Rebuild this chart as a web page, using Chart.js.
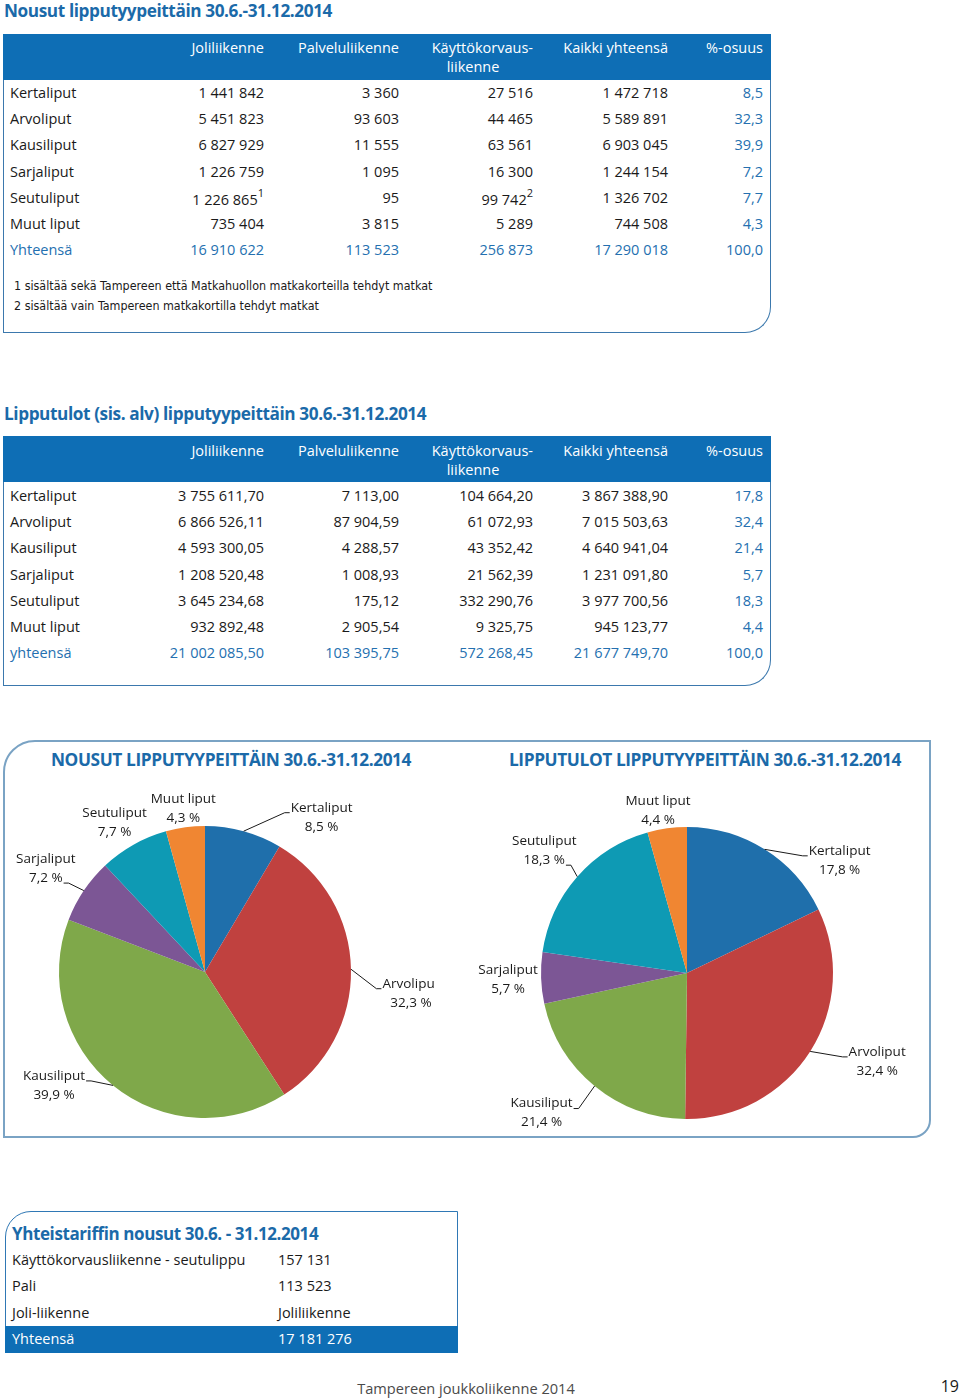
<!DOCTYPE html>
<html>
<head>
<meta charset="utf-8">
<script src="https://cdn.jsdelivr.net/npm/chart.js@4/dist/chart.umd.min.js"></script>
<style>
  body { margin: 0; background: #fff; font-family: "Open Sans", sans-serif; color: #1a1a1a; }
  #page { position: relative; width: 960px; height: 1399px; overflow: hidden; }
  .t { position: absolute; white-space: nowrap; line-height: 1; transform: translateY(-50%); }
  .box { position: absolute; box-sizing: border-box; }
  .title { font-weight: 700; color: #1b6aa9; letter-spacing: -0.4px; }
  .hdr { color: #fff; }
  .blue { color: #2470b0; }
  .note { font-family: "Liberation Sans Narrow", "DejaVu Sans Condensed", sans-serif; }
  sup { font-size: 11px; position: relative; top: -2px; }
  canvas { position: absolute; }
</style>
</head>
<body>
<div id="page">
  <div class="box" style="left:3px;top:34px;width:768px;height:299px;border:1.5px solid #3b78ad;border-top:none;border-bottom-right-radius:26px;"></div>
  <div class="box" style="left:3px;top:34px;width:768px;height:46px;background:#0e6eb5;"></div>
  <div class="box" style="left:3px;top:436px;width:768px;height:250px;border:1.5px solid #3b78ad;border-top:none;border-bottom-right-radius:26px;"></div>
  <div class="box" style="left:3px;top:436px;width:768px;height:46px;background:#0e6eb5;"></div>
  <div class="box" style="left:3px;top:740px;width:928px;height:398px;border:2px solid #7aa3c4;border-top-left-radius:32px;border-bottom-right-radius:18px;"></div>
  <div class="box" style="left:5px;top:1211px;width:453px;height:142px;border:1.5px solid #2f78b5;border-top-left-radius:26px;"></div>
  <div class="box" style="left:5px;top:1326px;width:453px;height:27px;background:#0e6eb5;"></div>
  <canvas id="pieNousut" width="460" height="380" style="left:-25px;top:782px;width:460px;height:380px;"></canvas>
  <canvas id="pieTulot" width="460" height="380" style="left:457px;top:783px;width:460px;height:380px;"></canvas>
</div>
<script>
const categories = ['Kertaliput', 'Arvoliput', 'Kausiliput', 'Sarjaliput', 'Seutuliput', 'Muut liput'];

// Nousut 30.6.-31.12.2014
const nousutJoli = [1441842, 5451823, 6827929, 1226759, 1226865, 735404];
const nousutPalvelu = [3360, 93603, 11555, 1095, 95, 3815];
const nousutKaytto = [27516, 44465, 63561, 16300, 99742, 5289];
const nousutKaikki = [1472718, 5589891, 6903045, 1244154, 1326702, 744508];
const nousutOsuus = [8.5, 32.3, 39.9, 7.2, 7.7, 4.3];
const nousutYhteensa = [16910622, 113523, 256873, 17290018, 100.0];

// Lipputulot (sis. alv)
const tulotJoli = [3755611.70, 6866526.11, 4593300.05, 1208520.48, 3645234.68, 932892.48];
const tulotPalvelu = [7113.00, 87904.59, 4288.57, 1008.93, 175.12, 2905.54];
const tulotKaytto = [104664.20, 61072.93, 43352.42, 21562.39, 332290.76, 9325.75];
const tulotKaikki = [3867388.90, 7015503.63, 4640941.04, 1231091.80, 3977700.56, 945123.77];
const tulotOsuus = [17.8, 32.4, 21.4, 5.7, 18.3, 4.4];
const tulotYhteensa = [21002085.50, 103395.75, 572268.45, 21677749.70, 100.0];

// Yhteistariffin nousut
const tariffiLabels = ['Käyttökorvausliikenne - seutulippu', 'Pali', 'Joli-liikenne', 'Yhteensä'];
const tariffiValues = [157131, 113523, 'Joliliikenne', 17181276];

const headers = ['Joliliikenne', 'Palveluliikenne', 'Käyttökorvaus-', 'Kaikki yhteensä', '%-osuus'];
const footnotes = ['1  sisältää sekä Tampereen että Matkahuollon matkakorteilla tehdyt matkat',
                   '2  sisältää vain Tampereen matkakortilla tehdyt matkat'];

const sliceColors = ['#1f6fab', '#c0413f', '#7fa84a', '#7c5695', '#0e9ab4', '#f08632'];

const page = document.getElementById('page');

function fmt(n, dec) {
  const parts = n.toFixed(dec).split('.');
  const int = parts[0].replace(/\B(?=(\d{3})+(?!\d))/g, ' ');
  return parts[1] ? int + ',' + parts[1] : int;
}

function txt(x, y, html, cls, align, size) {
  const d = document.createElement('div');
  d.className = 't ' + (cls || '');
  d.innerHTML = html;
  d.style.top = y + 'px';
  d.style.fontSize = (size || 14.5) + 'px';
  if (align === 'right') d.style.right = (960 - x) + 'px';
  else if (align === 'center') { d.style.left = x + 'px'; d.style.transform = 'translate(-50%,-50%)'; }
  else d.style.left = x + 'px';
  page.appendChild(d);
  return d;
}

const colRight = [264, 399, 533, 668, 763];

function drawTable(top, title, titleSize, cols, osuus, totals, totalLabel, dec, marks) {
  txt(4, top - 23, title, 'title', 'left', titleSize);
  headers.forEach((h, i) => txt(colRight[i], top + 14, h, 'hdr', 'right'));
  txt(473, top + 33, 'liikenne', 'hdr', 'center');
  categories.forEach((c, r) => {
    const y = top + 59 + r * 26.2;
    txt(10, y, c);
    cols.forEach((col, j) => {
      let s = fmt(col[r], dec);
      if (marks[r] && marks[r][j]) s += '<sup>' + marks[r][j] + '</sup>';
      txt(colRight[j], y, s, '', 'right');
    });
    txt(colRight[4], y, fmt(osuus[r], 1), 'blue', 'right');
  });
  const yt = top + 59 + 6 * 26.2;
  txt(10, yt, totalLabel, 'blue');
  totals.forEach((v, j) => txt(colRight[j], yt, fmt(v, j === 4 ? 1 : dec), 'blue', 'right'));
}

drawTable(34, 'Nousut lipputyypeittäin 30.6.-31.12.2014', 17.2,
  [nousutJoli, nousutPalvelu, nousutKaytto, nousutKaikki], nousutOsuus, nousutYhteensa, 'Yhteensä', 0,
  {4: {0: '1', 2: '2'}});
footnotes.forEach((f, i) => txt(14, 286 + i * 20, f, 'note', 'left', 12.4));

drawTable(437, 'Lipputulot (sis. alv) lipputyypeittäin 30.6.-31.12.2014', 17.2,
  [tulotJoli, tulotPalvelu, tulotKaytto, tulotKaikki], tulotOsuus, tulotYhteensa, 'yhteensä', 2, {});

txt(231, 760, 'NOUSUT LIPPUTYYPEITTÄIN 30.6.-31.12.2014', 'title', 'center', 17.3);
txt(705, 760, 'LIPPUTULOT LIPPUTYYPEITTÄIN 30.6.-31.12.2014', 'title', 'center', 17.3);

txt(12, 1233, 'Yhteistariffin nousut 30.6. - 31.12.2014', 'title', 'left', 17);
tariffiLabels.forEach((l, i) => {
  const y = 1260 + i * 26.3;
  const last = i === tariffiLabels.length - 1;
  const v = tariffiValues[i];
  txt(12, y, l, last ? 'hdr' : '', 'left', 14.5);
  txt(278, y, typeof v === 'number' ? fmt(v, 0) : v, last ? 'hdr' : '', 'left', 14.5);
});

txt(466, 1388, 'Tampereen joukkoliikenne 2014', '', 'center', 14.6).style.color = '#4a4a4a';
txt(959, 1386, '19', '', 'right', 16);

// label boxes placed relative to the slice's outer edge at its mid angle
const pieLabels = {
  id: 'pieLabels',
  afterDatasetsDraw(chart, args, opts) {
    const ctx = chart.ctx;
    const meta = chart.getDatasetMeta(0);
    ctx.save();
    ctx.font = '13.5px "Open Sans"';
    ctx.fillStyle = '#1a1a1a';
    ctx.strokeStyle = '#1a1a1a';
    ctx.lineWidth = 1;
    ctx.textAlign = 'center';
    ctx.textBaseline = 'middle';
    const lh = 19;
    meta.data.forEach((arc, i) => {
      const p = arc.getProps(['x', 'y', 'startAngle', 'endAngle', 'outerRadius'], true);
      const mid = (p.startAngle + p.endAngle) / 2;
      const ex = p.x + Math.cos(mid) * p.outerRadius;
      const ey = p.y + Math.sin(mid) * p.outerRadius;
      const lay = opts.layout[i];
      const cx = ex + lay.dx, cy = ey + lay.dy;
      const l1 = chart.data.labels[i];
      const l2 = fmt(opts.pct[i], 1) + ' %';
      ctx.fillText(l1, cx, cy - lh / 2);
      ctx.fillText(l2, cx, cy + lh / 2);
      if (lay.leader) {
        const first = lay.leader[1] === '1';
        const w = ctx.measureText(first ? l1 : l2).width;
        const ty = (first ? cy - lh / 2 : cy + lh / 2) + 5;
        const left = lay.leader[0] === 'L';
        const tx = left ? cx - w / 2 - 1 : cx + w / 2 + 1;
        const dir = left ? -1 : 1;
        ctx.beginPath();
        ctx.moveTo(ex, ey);
        ctx.lineTo(tx + dir * 5, ty);
        ctx.lineTo(tx, ty);
        ctx.stroke();
      }
    });
    ctx.restore();
  }
};

function makePie(id, values, pct, layout) {
  return new Chart(document.getElementById(id), {
    type: 'pie',
    data: {
      labels: categories,
      datasets: [{ data: values, backgroundColor: sliceColors, borderWidth: 0 }]
    },
    options: {
      responsive: false,
      animation: false,
      radius: 146,
      layout: { padding: 0 },
      plugins: {
        legend: { display: false },
        tooltip: { enabled: false },
        pieLabels: { pct: pct, layout: layout }
      }
    },
    plugins: [pieLabels]
  });
}

makePie('pieNousut', nousutKaikki, nousutOsuus, [
  { dx: 78, dy: -14, leader: 'L1' },
  { dx: 60, dy: 24, leader: 'L1' },
  { dx: -59, dy: 0, leader: 'R1' },
  { dx: -38, dy: -22, leader: 'R2' },
  { dx: -19, dy: -22 },
  { dx: -2, dy: -19 }
]);

makePie('pieTulot', tulotKaikki, tulotOsuus, [
  { dx: 75, dy: 11, leader: 'L1' },
  { dx: 67, dy: 10, leader: 'L1' },
  { dx: -53, dy: 27, leader: 'R1' },
  { dx: -33, dy: 2 },
  { dx: -33, dy: -26, leader: 'R2' },
  { dx: -9, dy: -18 }
]);
</script>
</body>
</html>
